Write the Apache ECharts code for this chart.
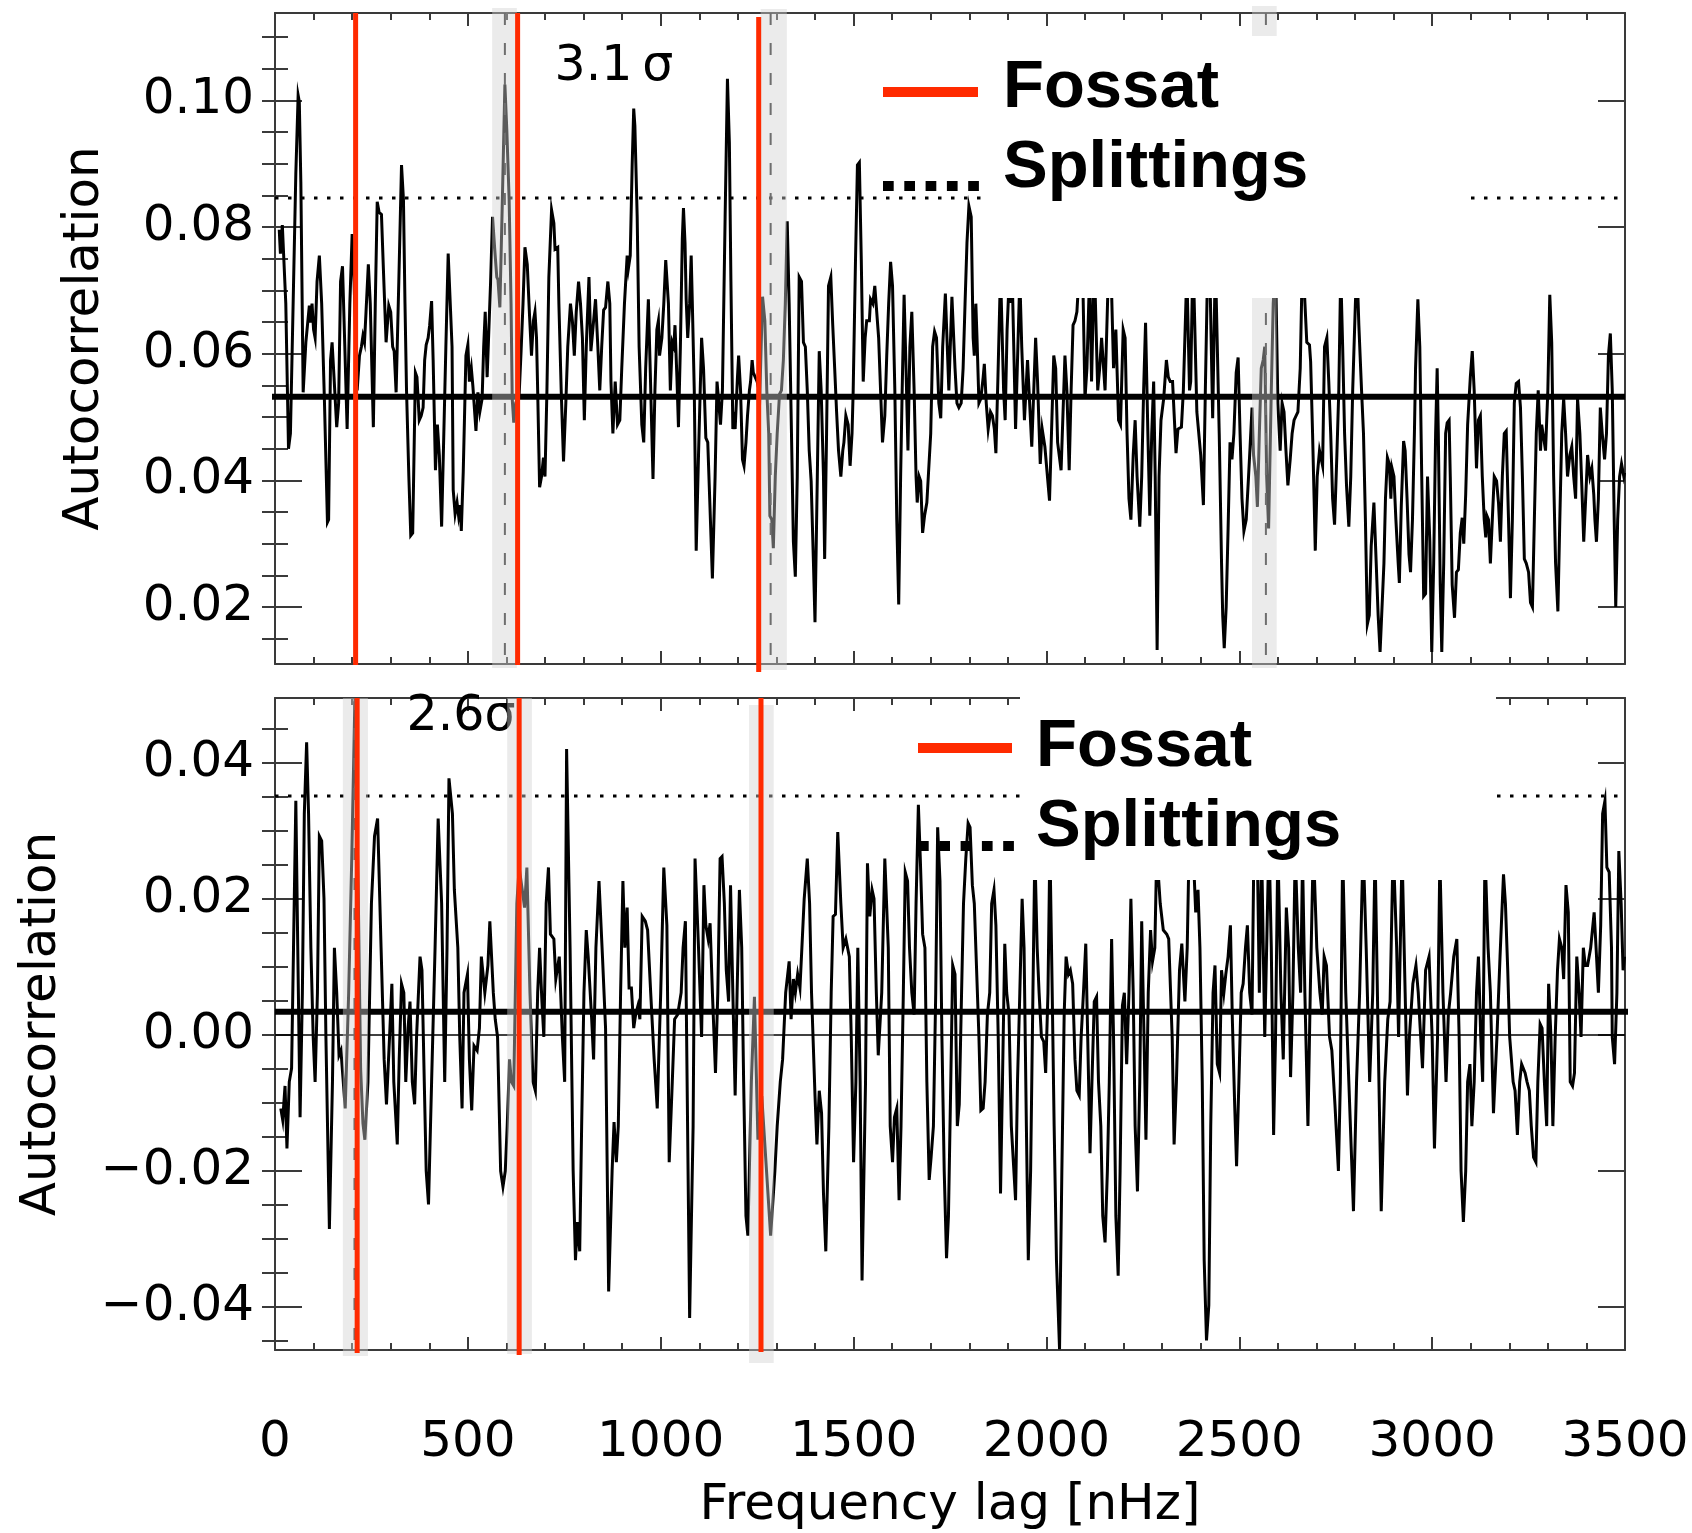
<!DOCTYPE html>
<html>
<head>
<meta charset="utf-8">
<script src="https://cdn.jsdelivr.net/npm/echarts@6/dist/echarts.min.js"></script>
<style>
  html, body { margin: 0; padding: 0; background: #fff; }
  #chart { width: 1692px; height: 1533px; }
</style>
</head>
<body>
<div id="chart"></div>
<script>
// Autocorrelation of the power spectrum versus frequency lag, two data sets.
// Each entry: [frequency lag (nHz), autocorrelation]
const upperAcf = [
[11,0.0796],[14,0.0758],[19,0.0803],[23,0.0748],[28,0.0679],[35,0.0450],[40,0.0474],[47,0.0679],[54,0.0885],[60,0.1008],
[63,0.0998],[67,0.0871],[73,0.0539],[77,0.0536],[80,0.0618],[85,0.0618],[89,0.0676],[92,0.0649],[96,0.0679],[100,0.0638],
[104,0.0625],[109,0.0714],[115,0.0755],[121,0.0679],[128,0.0529],[136,0.0334],[139,0.0338],[144,0.0590],[148,0.0618],[153,0.0563],
[160,0.0484],[165,0.0522],[170,0.0714],[175,0.0738],[181,0.0611],[187,0.0481],[194,0.0679],[200,0.0789],[205,0.0714],[213,0.0542],
[219,0.0597],[224,0.0611],[228,0.0628],[232,0.0618],[236,0.0666],[242,0.0741],[247,0.0679],[255,0.0484],[260,0.0679],[265,0.0840],
[270,0.0823],[276,0.0820],[281,0.0734],[288,0.0618],[295,0.0676],[300,0.0666],[305,0.0611],[309,0.0604],[314,0.0539],[321,0.0714],
[328,0.0898],[333,0.0844],[337,0.0679],[341,0.0542],[347,0.0406],[352,0.0313],[357,0.0317],[364,0.0570],[368,0.0563],[374,0.0495],
[379,0.0502],[384,0.0515],[388,0.0590],[392,0.0614],[397,0.0625],[401,0.0645],[406,0.0683],[410,0.0590],[416,0.0416],[421,0.0488],
[426,0.0440],[432,0.0327],[436,0.0327],[443,0.0611],[449,0.0758],[454,0.0755],[459,0.0611],[462,0.0385],[467,0.0347],[472,0.0365],
[476,0.0344],[480,0.0361],[483,0.0320],[488,0.0413],[495,0.0597],[500,0.0614],[504,0.0556],[509,0.0577],[513,0.0549],[517,0.0549],
[521,0.0478],[526,0.0539],[531,0.0508],[537,0.0529],[541,0.0611],[545,0.0666],[550,0.0563],[554,0.0563],[559,0.0714],[564,0.0816],
[570,0.0762],[575,0.0721],[578,0.0717],[583,0.0673],[589,0.0830],[596,0.1025],[601,0.0953],[607,0.0844],[612,0.0679],[615,0.0529],
[619,0.0491],[624,0.0522],[633,0.0536],[638,0.0604],[643,0.0679],[648,0.0768],[654,0.0741],[660,0.0659],[665,0.0597],[670,0.0652],
[674,0.0666],[678,0.0625],[681,0.0542],[686,0.0389],[691,0.0406],[696,0.0436],[700,0.0406],[705,0.0542],[710,0.0721],[717,0.0827],
[723,0.0806],[726,0.0765],[733,0.0768],[736,0.0679],[742,0.0542],[748,0.0430],[754,0.0522],[759,0.0611],[766,0.0679],[771,0.0652],
[776,0.0597],[781,0.0666],[787,0.0714],[792,0.0679],[797,0.0625],[802,0.0495],[807,0.0611],[814,0.0721],[819,0.0604],[824,0.0638],
[831,0.0686],[837,0.0611],[842,0.0542],[847,0.0611],[852,0.0669],[857,0.0673],[863,0.0714],[868,0.0679],[871,0.0556],[876,0.0474],
[882,0.0556],[885,0.0556],[888,0.0488],[894,0.0495],[899,0.0577],[906,0.0679],[913,0.0755],[916,0.0734],[921,0.0755],[926,0.0898],
[930,0.0987],[933,0.0960],[939,0.0816],[944,0.0611],[951,0.0488],[956,0.0460],[961,0.0577],[968,0.0686],[973,0.0570],[980,0.0402],
[985,0.0542],[990,0.0638],[994,0.0652],[997,0.0597],[1003,0.0625],[1008,0.0679],[1013,0.0748],[1020,0.0679],[1025,0.0542],[1030,0.0618],
[1034,0.0611],[1037,0.0645],[1042,0.0563],[1046,0.0484],[1051,0.0611],[1056,0.0782],[1059,0.0830],[1063,0.0775],[1066,0.0686],[1070,0.0625],
[1075,0.0679],[1079,0.0755],[1082,0.0679],[1087,0.0542],[1092,0.0289],[1098,0.0440],[1103,0.0556],[1106,0.0625],[1111,0.0577],[1117,0.0467],
[1122,0.0460],[1127,0.0371],[1134,0.0245],[1141,0.0406],[1146,0.0556],[1149,0.0556],[1155,0.0488],[1160,0.0542],[1167,0.0816],[1173,0.1034],
[1178,0.0933],[1182,0.0714],[1187,0.0481],[1190,0.0508],[1193,0.0481],[1199,0.0563],[1202,0.0597],[1207,0.0542],[1212,0.0433],[1216,0.0423],
[1221,0.0460],[1225,0.0502],[1230,0.0542],[1233,0.0556],[1237,0.0590],[1240,0.0570],[1245,0.0563],[1250,0.0556],[1257,0.0536],[1264,0.0690],
[1270,0.0652],[1275,0.0542],[1280,0.0474],[1283,0.0344],[1288,0.0338],[1292,0.0293],[1297,0.0406],[1302,0.0474],[1308,0.0536],[1313,0.0542],
[1318,0.0590],[1323,0.0679],[1328,0.0809],[1333,0.0679],[1339,0.0474],[1344,0.0303],[1349,0.0248],[1354,0.0406],[1359,0.0721],[1365,0.0714],
[1370,0.0618],[1375,0.0611],[1380,0.0542],[1385,0.0447],[1390,0.0399],[1396,0.0269],[1400,0.0176],[1406,0.0406],[1411,0.0604],[1416,0.0542],
[1422,0.0406],[1425,0.0276],[1430,0.0474],[1435,0.0707],[1441,0.0721],[1446,0.0645],[1451,0.0577],[1456,0.0508],[1461,0.0447],[1467,0.0406],
[1472,0.0447],[1475,0.0460],[1480,0.0502],[1486,0.0488],[1491,0.0423],[1496,0.0474],[1499,0.0542],[1505,0.0748],[1510,0.0898],[1515,0.0902],
[1520,0.0748],[1525,0.0556],[1530,0.0625],[1534,0.0652],[1541,0.0652],[1544,0.0686],[1550,0.0679],[1555,0.0707],[1560,0.0707],[1565,0.0625],
[1570,0.0542],[1575,0.0460],[1581,0.0502],[1586,0.0597],[1591,0.0679],[1596,0.0745],[1601,0.0707],[1607,0.0542],[1612,0.0338],[1617,0.0204],
[1622,0.0406],[1626,0.0542],[1631,0.0693],[1636,0.0577],[1641,0.0447],[1646,0.0611],[1651,0.0666],[1657,0.0542],[1662,0.0406],[1665,0.0365],
[1670,0.0406],[1674,0.0399],[1679,0.0317],[1684,0.0344],[1690,0.0365],[1695,0.0365],[1700,0.0474],[1705,0.0611],[1710,0.0635],[1715,0.0625],
[1721,0.0522],[1726,0.0498],[1731,0.0611],[1738,0.0695],[1747,0.0542],[1755,0.0690],[1763,0.0577],[1768,0.0522],[1773,0.0515],[1779,0.0522],
[1784,0.0577],[1789,0.0679],[1794,0.0775],[1799,0.0833],[1805,0.0816],[1810,0.0625],[1813,0.0597],[1817,0.0679],[1820,0.0625],[1825,0.0522],
[1830,0.0529],[1836,0.0563],[1839,0.0584],[1844,0.0522],[1849,0.0481],[1855,0.0508],[1860,0.0502],[1865,0.0481],[1869,0.0443],[1874,0.0556],
[1881,0.0730],[1889,0.0542],[1893,0.0495],[1898,0.0638],[1905,0.0740],[1908,0.0680],[1911,0.0730],[1920,0.0481],[1926,0.0611],[1931,0.0720],
[1936,0.0611],[1943,0.0495],[1951,0.0590],[1962,0.0453],[1972,0.0625],[1977,0.0556],[1984,0.0426],[1989,0.0481],[1996,0.0453],[2008,0.0368],
[2019,0.0597],[2024,0.0577],[2029,0.0460],[2038,0.0416],[2048,0.0597],[2053,0.0542],[2059,0.0416],[2064,0.0542],[2069,0.0645],[2074,0.0652],
[2079,0.0666],[2086,0.0740],[2093,0.0760],[2100,0.0529],[2105,0.0577],[2112,0.0730],[2117,0.0556],[2124,0.0750],[2133,0.0542],[2138,0.0577],
[2143,0.0625],[2152,0.0542],[2161,0.0735],[2168,0.0720],[2174,0.0577],[2180,0.0638],[2187,0.0495],[2192,0.0488],[2199,0.0638],[2204,0.0625],
[2209,0.0474],[2214,0.0371],[2219,0.0338],[2225,0.0440],[2230,0.0495],[2235,0.0406],[2242,0.0327],[2247,0.0406],[2252,0.0542],[2257,0.0649],
[2263,0.0474],[2268,0.0344],[2273,0.0474],[2278,0.0556],[2282,0.0406],[2287,0.0132],[2292,0.0406],[2297,0.0495],[2304,0.0529],[2311,0.0590],
[2316,0.0563],[2321,0.0556],[2327,0.0556],[2336,0.0443],[2341,0.0481],[2350,0.0484],[2355,0.0542],[2364,0.0730],[2371,0.0542],[2374,0.0556],
[2380,0.0760],[2390,0.0508],[2400,0.0440],[2407,0.0361],[2412,0.0542],[2418,0.0740],[2424,0.0720],[2431,0.0498],[2438,0.0750],[2448,0.0474],
[2454,0.0269],[2457,0.0187],[2461,0.0135],[2466,0.0200],[2471,0.0324],[2476,0.0460],[2481,0.0433],[2486,0.0474],[2492,0.0570],[2497,0.0594],
[2502,0.0474],[2507,0.0371],[2512,0.0320],[2518,0.0338],[2524,0.0406],[2528,0.0453],[2533,0.0515],[2537,0.0440],[2543,0.0406],[2547,0.0358],
[2552,0.0474],[2557,0.0577],[2562,0.0590],[2566,0.0611],[2571,0.0406],[2576,0.0324],[2583,0.0542],[2588,0.0679],[2594,0.0740],[2600,0.0522],
[2606,0.0447],[2611,0.0522],[2616,0.0508],[2621,0.0447],[2626,0.0392],[2632,0.0433],[2637,0.0474],[2642,0.0495],[2652,0.0508],[2658,0.0577],
[2664,0.0760],[2675,0.0618],[2682,0.0614],[2685,0.0587],[2690,0.0474],[2694,0.0371],[2697,0.0289],[2702,0.0406],[2708,0.0447],[2713,0.0447],
[2716,0.0423],[2721,0.0611],[2727,0.0625],[2732,0.0556],[2737,0.0474],[2742,0.0371],[2747,0.0330],[2753,0.0440],[2758,0.0542],[2763,0.0730],
[2768,0.0611],[2773,0.0474],[2778,0.0392],[2784,0.0327],[2789,0.0406],[2794,0.0542],[2801,0.0679],[2805,0.0740],[2810,0.0645],[2817,0.0542],
[2822,0.0474],[2827,0.0338],[2832,0.0173],[2837,0.0187],[2842,0.0296],[2849,0.0365],[2855,0.0269],[2860,0.0187],[2865,0.0129],[2870,0.0132],
[2875,0.0269],[2879,0.0371],[2884,0.0436],[2889,0.0426],[2893,0.0371],[2896,0.0419],[2901,0.0406],[2906,0.0338],[2912,0.0269],[2915,0.0238],
[2920,0.0360],[2926,0.0462],[2930,0.0447],[2935,0.0371],[2940,0.0283],[2944,0.0255],[2949,0.0338],[2954,0.0474],[2957,0.0577],[2963,0.0686],
[2968,0.0611],[2973,0.0406],[2978,0.0217],[2983,0.0221],[2988,0.0406],[2994,0.0303],[2999,0.0129],[3004,0.0269],[3009,0.0474],[3013,0.0577],
[3016,0.0474],[3021,0.0235],[3025,0.0129],[3030,0.0269],[3035,0.0474],[3039,0.0491],[3044,0.0495],[3047,0.0406],[3052,0.0235],[3058,0.0183],
[3063,0.0255],[3068,0.0259],[3073,0.0317],[3078,0.0341],[3082,0.0300],[3087,0.0378],[3092,0.0488],[3099,0.0563],[3104,0.0604],[3109,0.0542],
[3115,0.0419],[3120,0.0495],[3125,0.0502],[3130,0.0406],[3135,0.0338],[3139,0.0310],[3142,0.0344],[3146,0.0338],[3151,0.0269],[3156,0.0338],
[3161,0.0406],[3167,0.0399],[3172,0.0365],[3177,0.0303],[3182,0.0406],[3187,0.0474],[3192,0.0478],[3198,0.0338],[3203,0.0214],[3208,0.0338],
[3213,0.0522],[3218,0.0553],[3224,0.0556],[3229,0.0515],[3234,0.0406],[3239,0.0276],[3244,0.0269],[3250,0.0255],[3255,0.0207],[3260,0.0200],
[3265,0.0338],[3270,0.0474],[3275,0.0542],[3281,0.0447],[3284,0.0488],[3289,0.0491],[3294,0.0447],[3300,0.0542],[3305,0.0693],[3310,0.0618],
[3315,0.0406],[3320,0.0269],[3326,0.0193],[3331,0.0338],[3336,0.0474],[3341,0.0529],[3346,0.0474],[3351,0.0406],[3357,0.0440],[3362,0.0453],
[3367,0.0406],[3372,0.0371],[3377,0.0529],[3383,0.0474],[3388,0.0392],[3393,0.0303],[3398,0.0371],[3403,0.0440],[3409,0.0406],[3414,0.0419],
[3419,0.0378],[3422,0.0338],[3426,0.0303],[3431,0.0371],[3436,0.0515],[3441,0.0474],[3447,0.0433],[3452,0.0474],[3457,0.0597],[3462,0.0632],
[3467,0.0542],[3472,0.0338],[3476,0.0200],[3481,0.0338],[3486,0.0406],[3491,0.0426],[3497,0.0406],[3499,0.0412]
];

const lowerAcf = [
[15,-0.0108],[20,-0.0125],[26,-0.0075],[31,-0.0167],[37,-0.0069],[43,-0.0049],[48,0.0128],[54,0.0344],[59,0.0128],[65,-0.0121],
[71,0.0062],[76,0.0325],[82,0.0430],[87,0.0325],[93,0.0128],[99,-0.0003],[104,-0.0069],[110,0.0062],[115,0.0292],[121,0.0285],
[127,0.0200],[132,-0.0003],[141,-0.0285],[149,-0.0069],[154,0.0128],[160,0.0062],[166,-0.0030],[171,-0.0023],[177,-0.0069],[182,-0.0108],
[191,0.0062],[199,0.0259],[207,0.0490],[216,0.0200],[222,-0.0050],[228,-0.0130],[233,-0.0154],[241,-0.0069],[250,0.0193],[258,0.0292],
[266,0.0318],[275,0.0128],[283,-0.0036],[289,-0.0102],[297,-0.0003],[303,0.0075],[308,-0.0069],[317,-0.0161],[322,-0.0036],[328,0.0075],
[334,0.0062],[339,-0.0069],[345,0.0010],[350,0.0049],[356,-0.0069],[362,-0.0102],[367,-0.0003],[376,0.0115],[381,0.0095],[387,-0.0069],
[392,-0.0200],[398,-0.0249],[406,-0.0069],[415,0.0128],[423,0.0318],[432,0.0193],[440,-0.0069],[446,0.0128],[451,0.0377],[460,0.0325],
[465,0.0213],[474,0.0128],[479,-0.0003],[485,-0.0108],[490,0.0062],[499,0.0089],[504,-0.0036],[510,-0.0111],[516,-0.0016],[524,-0.0023],
[530,0.0010],[535,0.0115],[544,0.0062],[552,0.0102],[557,0.0167],[566,0.0062],[571,0.0023],[577,-0.0003],[585,-0.0200],[591,-0.0223],
[597,-0.0200],[602,-0.0134],[608,-0.0036],[613,-0.0069],[619,-0.0075],[627,0.0193],[633,0.0246],[641,0.0213],[647,0.0187],[653,0.0246],
[661,0.0062],[669,-0.0069],[675,-0.0082],[681,0.0062],[686,0.0128],[692,0.0049],[697,-0.0003],[703,0.0193],[709,0.0246],[714,0.0148],
[723,0.0141],[728,0.0082],[737,0.0115],[745,-0.0003],[751,-0.0069],[756,0.0420],[765,0.0128],[773,-0.0200],[779,-0.0331],[784,-0.0275],
[790,-0.0318],[795,-0.0134],[801,0.0062],[807,0.0154],[812,0.0115],[821,0.0023],[826,-0.0036],[832,0.0128],[840,0.0226],[849,0.0115],
[857,0.0010],[865,-0.0377],[874,-0.0200],[879,-0.0128],[885,-0.0187],[890,-0.0134],[896,0.0062],[902,0.0226],[907,0.0128],[913,0.0187],
[918,0.0069],[924,0.0069],[930,0.0010],[935,0.0030],[941,0.0043],[946,0.0023],[952,0.0174],[960,0.0167],[966,0.0154],[974,0.0062],
[983,-0.0036],[991,-0.0108],[1000,0.0062],[1008,0.0246],[1016,0.0161],[1022,-0.0187],[1030,-0.0069],[1036,0.0023],[1044,0.0030],[1053,0.0062],
[1058,0.0128],[1064,0.0167],[1075,-0.0416],[1084,-0.0134],[1089,0.0259],[1098,0.0128],[1106,-0.0003],[1112,0.0220],[1117,0.0161],[1123,0.0141],
[1128,0.0164],[1134,0.0062],[1142,-0.0056],[1148,0.0062],[1154,0.0259],[1159,0.0262],[1165,0.0193],[1170,0.0095],[1176,0.0049],[1181,0.0220],
[1187,0.0062],[1193,-0.0089],[1198,0.0062],[1204,0.0213],[1210,0.0128],[1215,-0.0069],[1221,-0.0266],[1226,-0.0295],[1235,-0.0069],[1243,0.0056],
[1252,-0.0154],[1262,-0.0090],[1285,-0.0295],[1296,-0.0200],[1302,-0.0134],[1310,-0.0069],[1316,-0.0036],[1324,0.0062],[1333,0.0108],[1338,0.0023],
[1344,0.0082],[1349,0.0062],[1355,0.0089],[1361,0.0069],[1366,0.0128],[1372,0.0200],[1380,0.0259],[1386,0.0193],[1391,0.0062],[1400,-0.0089],
[1405,-0.0161],[1411,-0.0082],[1417,-0.0115],[1422,-0.0233],[1428,-0.0318],[1436,-0.0134],[1442,0.0062],[1447,0.0174],[1453,0.0177],[1459,0.0298],
[1467,0.0193],[1473,0.0128],[1480,0.0141],[1489,0.0115],[1494,-0.0003],[1500,-0.0187],[1506,-0.0069],[1511,0.0128],[1517,-0.0069],[1522,-0.0361],
[1531,-0.0069],[1536,0.0252],[1542,0.0174],[1548,0.0213],[1553,0.0200],[1559,0.0062],[1564,-0.0030],[1573,0.0062],[1581,0.0259],[1590,0.0128],
[1595,-0.0134],[1601,-0.0187],[1606,-0.0121],[1612,-0.0108],[1618,-0.0243],[1623,-0.0134],[1629,0.0062],[1634,0.0239],[1640,0.0226],[1645,0.0128],
[1651,0.0062],[1657,0.0030],[1662,0.0193],[1668,0.0338],[1673,0.0259],[1679,0.0148],[1685,0.0128],[1690,-0.0069],[1696,-0.0213],[1701,-0.0180],
[1707,-0.0134],[1713,0.0062],[1718,0.0305],[1724,0.0226],[1729,-0.0003],[1735,-0.0200],[1741,-0.0328],[1746,-0.0266],[1752,-0.0069],[1757,0.0102],
[1763,0.0089],[1769,-0.0134],[1774,-0.0102],[1780,0.0062],[1785,0.0193],[1791,0.0259],[1797,0.0311],[1802,0.0305],[1808,0.0220],[1813,0.0193],
[1819,0.0095],[1825,-0.0003],[1830,-0.0111],[1836,-0.0108],[1841,-0.0069],[1847,0.0030],[1853,0.0062],[1858,0.0193],[1864,0.0213],[1869,0.0161],
[1875,-0.0003],[1881,-0.0233],[1886,-0.0069],[1892,0.0134],[1897,0.0062],[1903,0.0030],[1909,-0.0134],[1920,-0.0243],[1925,-0.0069],[1931,0.0062],
[1937,0.0200],[1942,0.0128],[1948,-0.0134],[1953,-0.0331],[1959,-0.0200],[1965,0.0062],[1970,0.0270],[1976,0.0128],[1981,0.0062],[1987,-0.0003],
[1993,-0.0010],[1998,-0.0056],[2004,0.0062],[2009,0.0280],[2015,0.0062],[2020,-0.0134],[2026,-0.0331],[2034,-0.0462],[2040,-0.0200],[2046,0.0030],
[2051,0.0115],[2057,0.0089],[2062,0.0095],[2068,0.0075],[2074,-0.0036],[2079,-0.0082],[2085,-0.0089],[2090,-0.0003],[2096,0.0062],[2102,0.0134],
[2107,-0.0003],[2113,-0.0174],[2118,-0.0069],[2124,0.0049],[2130,0.0056],[2135,-0.0069],[2141,-0.0134],[2146,-0.0266],[2152,-0.0305],[2158,-0.0200],
[2163,-0.0069],[2169,0.0141],[2174,-0.0003],[2180,-0.0266],[2186,-0.0354],[2191,-0.0200],[2197,0.0043],[2202,0.0062],[2208,-0.0043],[2214,0.0062],
[2219,0.0200],[2225,0.0062],[2230,-0.0134],[2236,-0.0230],[2242,-0.0069],[2247,0.0167],[2253,-0.0003],[2258,-0.0154],[2264,0.0062],[2270,0.0154],
[2275,0.0108],[2281,0.0128],[2286,0.0270],[2295,0.0193],[2303,0.0154],[2312,0.0148],[2317,0.0141],[2326,-0.0003],[2331,-0.0161],[2337,-0.0069],
[2345,0.0095],[2351,0.0134],[2359,0.0049],[2365,0.0128],[2370,0.0280],[2379,0.0290],[2387,0.0180],[2393,0.0213],[2398,0.0128],[2404,-0.0069],
[2409,-0.0331],[2415,-0.0449],[2421,-0.0397],[2426,-0.0134],[2432,0.0062],[2437,0.0102],[2443,-0.0043],[2449,-0.0056],[2454,0.0095],[2460,0.0062],
[2465,0.0089],[2471,0.0115],[2477,0.0161],[2482,0.0023],[2488,-0.0102],[2493,-0.0193],[2499,-0.0069],[2505,0.0062],[2510,0.0075],[2516,0.0128],
[2521,0.0161],[2527,0.0062],[2533,0.0030],[2538,0.0280],[2547,0.0260],[2552,0.0062],[2558,0.0270],[2566,-0.0003],[2577,0.0290],[2583,0.0128],
[2589,-0.0147],[2594,-0.0003],[2600,0.0280],[2608,0.0062],[2614,-0.0036],[2622,0.0187],[2628,0.0128],[2633,-0.0062],[2639,0.0062],[2645,0.0270],
[2653,0.0128],[2659,0.0062],[2664,0.0260],[2670,0.0062],[2678,-0.0134],[2684,0.0062],[2692,0.0280],[2701,0.0128],[2709,0.0062],[2715,0.0030],
[2720,0.0115],[2726,0.0102],[2734,-0.0003],[2740,-0.0023],[2748,-0.0102],[2757,-0.0200],[2762,-0.0069],[2768,0.0270],[2776,0.0062],[2784,-0.0069],
[2796,-0.0259],[2804,-0.0069],[2812,0.0062],[2821,0.0280],[2829,0.0128],[2838,-0.0069],[2846,0.0062],[2852,0.0270],[2860,-0.0003],[2868,-0.0259],
[2877,-0.0069],[2885,0.0023],[2891,0.0049],[2899,0.0280],[2908,0.0128],[2913,-0.0003],[2922,0.0270],[2930,0.0062],[2936,-0.0089],[2941,-0.0003],
[2950,0.0075],[2958,0.0102],[2964,0.0062],[2969,0.0010],[2975,-0.0049],[2983,0.0095],[2992,0.0115],[3000,-0.0003],[3006,-0.0167],[3014,-0.0003],
[3020,0.0260],[3028,0.0062],[3036,-0.0069],[3042,0.0030],[3048,0.0062],[3056,0.0115],[3064,0.0141],[3070,-0.0003],[3075,-0.0200],[3081,-0.0275],
[3087,-0.0200],[3092,-0.0069],[3098,-0.0043],[3103,-0.0134],[3109,-0.0069],[3115,0.0062],[3120,0.0115],[3126,-0.0003],[3131,-0.0069],[3137,0.0270],
[3145,0.0128],[3151,0.0062],[3159,-0.0115],[3168,-0.0003],[3176,0.0115],[3185,0.0236],[3190,0.0193],[3196,0.0095],[3201,-0.0003],[3210,-0.0069],
[3215,-0.0082],[3221,-0.0147],[3227,-0.0069],[3232,-0.0043],[3241,-0.0056],[3246,-0.0069],[3252,-0.0082],[3257,-0.0134],[3263,-0.0180],[3269,-0.0187],
[3274,-0.0069],[3280,0.0016],[3285,0.0010],[3291,-0.0069],[3297,-0.0134],[3302,0.0075],[3308,-0.0003],[3313,-0.0134],[3319,-0.0003],[3325,0.0095],
[3330,0.0141],[3336,0.0128],[3341,0.0082],[3347,0.0220],[3353,0.0180],[3358,-0.0069],[3364,-0.0075],[3369,-0.0056],[3375,0.0115],[3381,0.0062],
[3386,-0.0003],[3392,0.0128],[3397,0.0102],[3403,0.0102],[3411,0.0128],[3420,0.0180],[3425,0.0128],[3431,0.0062],[3437,0.0161],[3442,0.0325],
[3448,0.0344],[3453,0.0246],[3459,0.0239],[3465,0.0128],[3467,-0.0003],[3473,-0.0043],[3479,0.0062],[3484,0.0270],[3490,0.0193],[3495,0.0095],
[3499,0.0115]
];

// Mean level (solid) and significance threshold (dotted) of each panel
const meanLevel = [0.0532, 0.0034];
const meanSpan = [[-13, 3500], [0, 3523]];
const threshold = [0.0846, 0.0351];
// Fossat splitting positions (red) and expected splitting ranges (grey bands, dashed centres)
const fossatLag = [[209, 629, 1254], [213, 633, 1260]];
const splitBands = [[[563, 627], [1259, 1327], [2533, 2597]], [[176, 241], [602, 666], [1229, 1293]]];
const splitCentres = [[596, 1285, 2569], [206, 633, 1260]];
const sigmaText = ['3.1\u2009\u03c3', '2.6\u03c3'];
const legendNames = ['Fossat', 'Splittings'];

// Axis ticks
const lagRange = [0, 3500];
const yRange = [[0.011, 0.1138], [-0.0463, 0.0495]];
const yMajor = [[0.02, 0.04, 0.06, 0.08, 0.10], [-0.04, -0.02, 0.00, 0.02, 0.04]];
const yMinorStep = 0.005;

// ---- layout / style ----
const grids = [
  { left: 275, top: 13, width: 1350, height: 651, containLabel: false, outerBoundsMode: 'none' },
  { left: 275, top: 698, width: 1350, height: 652, containLabel: false, outerBoundsMode: 'none' }
];
const frameColor = '#3a3a3a';
const red = '#ff2a00';
const bandFill = 'rgba(209,209,209,0.43)';
// how far each band / red line reaches past the frame: [above, below] in px
const bandReach = [[[5, 4], [4, 6], [7, 4]], [[0, 6], [0, 4], [-7, 13]]];
const redReach = [[[0, 1], [0, 1], [-4, 8]], [[0, 3], [0, 5], [0, 2]]];
const tickFont = 'DejaVu Sans';

function minorValues(range) {
  const out = [];
  const start = Math.ceil(range[0] / yMinorStep - 1e-9);
  const end = Math.floor(range[1] / yMinorStep + 1e-9);
  for (let k = start; k <= end; k++) out.push(+(k * yMinorStep).toFixed(4));
  return out;
}
function fmt(v) {
  const s = Math.abs(v).toFixed(2);
  return v < -1e-9 ? '\u2212' + s : s;
}

const xAxes = [];
const yAxes = [];
[0, 1].forEach(p => {
  ['bottom', 'top'].forEach(pos => {
    const labelled = p === 1 && pos === 'bottom';
    xAxes.push({
      type: 'value', gridIndex: p, position: pos,
      min: lagRange[0], max: lagRange[1], interval: 500,
      axisLine: { show: true, onZero: false, lineStyle: { color: frameColor, width: 2 } },
      axisTick: { show: true, inside: true, length: 13, lineStyle: { color: frameColor, width: 2 } },
      minorTick: { show: true, splitNumber: 5, length: 7, lineStyle: { color: frameColor, width: 2 } },
      splitLine: { show: false },
      axisLabel: { show: labelled, color: '#000', fontSize: 50, fontFamily: tickFont, margin: 68,
                   formatter: v => String(v), hideOverlap: false },
      name: labelled ? 'Frequency lag [nHz]' : '',
      nameLocation: 'middle', nameGap: 131,
      nameTextStyle: { color: '#000', fontSize: 50, fontFamily: tickFont }
    });
  });
  ['left', 'right'].forEach(pos => {
    const major = yMajor[p];
    const minor = minorValues(yRange[p]);
    const labelled = pos === 'left';
    yAxes.push({
      type: 'value', gridIndex: p, position: pos,
      min: yRange[p][0], max: yRange[p][1],
      axisLine: { show: true, onZero: false, lineStyle: { color: frameColor, width: 2 } },
      axisTick: { show: true, inside: true, length: 27, customValues: major, lineStyle: { color: frameColor, width: 2 } },
      splitLine: { show: false },
      axisLabel: {
        show: labelled, customValues: major, formatter: fmt, color: '#000',
        fontSize: 50, fontFamily: tickFont, margin: 21, padding: [9, 0, 0, 0]
      },
      name: labelled ? 'Autocorrelation' : '',
      nameLocation: 'middle', nameGap: p === 0 ? 165 : 208,
      nameTextStyle: { color: '#000', fontSize: 50, fontFamily: tickFont }
    });
    yAxes.push({
      type: 'value', gridIndex: p, position: pos,
      min: yRange[p][0], max: yRange[p][1],
      axisLine: { show: false },
      axisTick: { show: true, inside: true, length: 13, customValues: minor, lineStyle: { color: frameColor, width: 2 } },
      splitLine: { show: false },
      axisLabel: { show: false }
    });
  });
});

const series = [];
[upperAcf, lowerAcf].forEach((acf, p) => {
  const xi = p * 2, yi = p * 4;
  series.push({
    type: 'line', xAxisIndex: xi, yAxisIndex: yi, data: acf, showSymbol: false, symbol: 'none',
    lineStyle: { color: '#000', width: 3, join: 'miter' }, z: 2, silent: true
  });
  series.push({
    type: 'line', xAxisIndex: xi, yAxisIndex: yi, clip: false, symbol: 'none',
    data: [[meanSpan[p][0], meanLevel[p]], [meanSpan[p][1], meanLevel[p]]],
    lineStyle: { color: '#000', width: 6 }, z: 2, silent: true
  });
  if (p === 1) {
    series.push({
      type: 'line', xAxisIndex: xi, yAxisIndex: yi, symbol: 'none',
      data: [[lagRange[0], 0], [lagRange[1], 0]],
      lineStyle: { color: '#000', width: 1.5 }, z: 2, silent: true
    });
  }
  series.push({
    type: 'line', xAxisIndex: xi, yAxisIndex: yi, symbol: 'none',
    data: [[lagRange[0], threshold[p]], [lagRange[1], threshold[p]]],
    lineStyle: { color: '#000', width: 3, type: [3.5, 9.5] }, z: 2, silent: true
  });
  // grey splitting bands
  series.push({
    type: 'custom', xAxisIndex: xi, yAxisIndex: yi, clip: false, silent: true, z: 3,
    data: splitBands[p].map((b, i) => [b[0], b[1], i]),
    encode: { x: [0, 1], y: 2 },
    renderItem(params, api) {
      const cs = params.coordSys;
      const r = bandReach[p][api.value(2)];
      const x0 = api.coord([api.value(0), yRange[p][0]])[0];
      const x1 = api.coord([api.value(1), yRange[p][0]])[0];
      return { type: 'rect', shape: { x: x0, y: cs.y - r[0], width: x1 - x0, height: cs.height + r[0] + r[1] },
               style: { fill: bandFill } };
    }
  });
  // dashed band centres
  series.push({
    type: 'custom', xAxisIndex: xi, yAxisIndex: yi, clip: false, silent: true, z: 4,
    data: splitCentres[p].map((c, i) => [c, i]),
    encode: { x: 0, y: 1 },
    renderItem(params, api) {
      const cs = params.coordSys;
      const x = api.coord([api.value(0), yRange[p][0]])[0];
      return { type: 'line', shape: { x1: x, y1: cs.y, x2: x, y2: cs.y + cs.height },
               style: { stroke: '#6e6e6e', lineWidth: 2, lineDash: [12, 18] } };
    }
  });
  // Fossat splittings
  series.push({
    type: 'custom', xAxisIndex: xi, yAxisIndex: yi, clip: false, silent: true, z: 5,
    data: fossatLag[p].map((c, i) => [c, i]),
    encode: { x: 0, y: 1 },
    renderItem(params, api) {
      const cs = params.coordSys;
      const r = redReach[p][api.value(1)];
      const x = api.coord([api.value(0), yRange[p][0]])[0];
      return { type: 'line', shape: { x1: x, y1: cs.y - r[0], x2: x, y2: cs.y + cs.height + r[1] },
               style: { stroke: red, lineWidth: 5 } };
    }
  });
});

// Key boxes and significance labels
const keys = [
  { box: [987, 36, 482, 262], sample: [883, 978], rowY: [92, 186], textX: 1003, textY: [89, 169] },
  { box: [1020, 680, 476, 200], sample: [918, 1012], rowY: [748, 846], textX: 1036, textY: [748, 828] }
];
const sigmaPos = [[614, 67], [461, 717]];
const graphic = [];
keys.forEach((k, p) => {
  graphic.push({ type: 'rect', z: 50, shape: { x: k.box[0], y: k.box[1], width: k.box[2], height: k.box[3] }, style: { fill: '#fff' } });
  graphic.push({ type: 'line', z: 51, shape: { x1: k.sample[0], y1: k.rowY[0], x2: k.sample[1], y2: k.rowY[0] }, style: { stroke: red, lineWidth: 10 } });
  graphic.push({ type: 'line', z: 51, shape: { x1: k.sample[0], y1: k.rowY[1], x2: k.sample[1] + 2, y2: k.rowY[1] }, style: { stroke: '#000', lineWidth: 10, lineDash: [10.7, 10.6] } });
  legendNames.forEach((name, i) => {
    graphic.push({ type: 'text', z: 51, x: k.textX, y: k.textY[i],
      style: { text: name, fill: '#000', font: 'bold 67px "Liberation Sans", Arial, sans-serif', align: 'left', verticalAlign: 'middle' } });
  });
  graphic.push({ type: 'text', z: 1, x: sigmaPos[p][0], y: sigmaPos[p][1],
    style: { text: sigmaText[p], fill: '#000', font: '49px "DejaVu Sans", sans-serif', align: 'center', verticalAlign: 'middle' } });
});

const chart = echarts.init(document.getElementById('chart'), null, { renderer: 'canvas', width: 1692, height: 1533 });
chart.setOption({
  backgroundColor: '#fff',
  animation: false,
  grid: grids,
  xAxis: xAxes,
  yAxis: yAxes,
  series: series,
  graphic: graphic
});
</script>
</body>
</html>
